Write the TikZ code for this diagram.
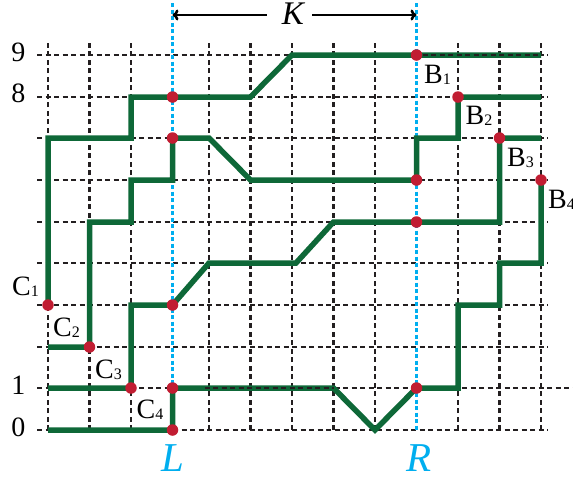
\documentclass[tikz,border=0pt]{standalone}
\usepackage{fontspec}
\setmainfont{Liberation Serif}
\usetikzlibrary{arrows.meta}
\definecolor{pathgreen}{RGB}{14,104,56}
\definecolor{dotred}{RGB}{193,29,50}
\definecolor{lineblue}{RGB}{0,174,239}
\definecolor{gridblack}{RGB}{35,31,32}
\newcommand\lblsub[1]{{\fontsize{16}{16}\selectfont\raisebox{-1pt}{#1}}}
\begin{document}
\begin{tikzpicture}[x=1pt,y=-1pt,
  gridline/.style={draw=gridblack,line width=2.2pt,dash pattern=on 5pt off 3.5pt},
  bluedash/.style={draw=lineblue,line width=2.4pt,dash pattern=on 4pt off 2.5pt},
  route/.style={draw=pathgreen,line width=5.5pt,line join=miter},
  dot/.style={circle,fill=dotred,inner sep=0pt,minimum size=11.5pt},
  lab/.style={anchor=base west,inner sep=0pt,font=\fontsize{28}{30}\selectfont},
  axis/.style={inner sep=0pt,font=\fontsize{28}{30}\selectfont},
  lr/.style={inner sep=0pt,text=lineblue,font=\fontsize{41}{44}\selectfont\itshape},
  dimarrow/.style={draw=black,line width=2.6pt,-{To[length=6pt,width=11pt]}}]
\useasboundingbox (0,0) rectangle (573,480);
% grid points
\foreach \i/\x in {0/48,1/89.5,2/131,3/172.5,4/209,5/250.5,6/292,7/333.5,8/375,9/416.5,10/458,11/499.5,12/541}{
  \foreach \j/\y in {0/430,1/388,2/347,3/305,4/263,5/222,6/180,7/138,8/97,9/55}{
    \coordinate (g\i-\j) at (\x,\y);
  }
}
% black dashed grid
\foreach \i in {0,1,2,4,5,6,7,8,10,11,12}{
  \draw[gridline] (g\i-0) -- ++(0,-390);
}
\foreach \j in {0,2,3,4,5,6,7,8,9}{
  \draw[gridline] ([xshift=-11pt]g0-\j) -- ([xshift=7pt]g12-\j);
}
\draw[gridline] ([xshift=-11pt]g0-1) -- ([xshift=32pt]g12-1);
% blue dotted lines
\coordinate (Ltop) at (172.5,3);
\coordinate (Rtop) at (416.5,3);
\draw[bluedash] (Ltop) -- (g3-0);
\draw[bluedash] (Rtop) -- (g9-0);
% green routes
\draw[route] (g0-3) -- (g0-7) -- (g2-7) -- (g2-8) -- (g5-8) -- (g6-9) -- (g12-9);
\draw[route] (g0-2) -- (g1-2) -- (g1-5) -- (g2-5) -- (g2-6) -- (g3-6) -- (g3-7) -- (g4-7) -- (g5-6) -- (g9-6) -- (g9-7) -- (g10-7) -- (g10-8) -- (g12-8);
\draw[route] (g0-1) -- (g2-1) -- (g2-3) -- (g3-3) -- (g4-4) -- ([xshift=4pt]g6-4) -- (g7-5) -- (g11-5) -- (g11-7) -- (g12-7);
\draw[route] (g0-0) -- (g3-0) -- (g3-1) -- (g7-1) -- (g8-0) -- (g9-1) -- (g10-1) -- (g10-3) -- (g11-3) -- (g11-4) -- (g12-4) -- (g12-6);
% dashes showing over some green segments
\draw[gridline] ([xshift=32pt]g3-1) -- (g7-1);
\draw[gridline] ([xshift=6pt]g9-9) -- (g12-9);
% red dots
\foreach \p in {g3-8,g3-7,g3-3,g3-1,g3-0,g9-9,g9-6,g9-5,g9-1,g10-8,g11-7,g12-6,g0-3,g1-2,g2-1}{
  \node[dot] (d\p) at (\p) {};
}
% B and C labels
\node[lab] (B1) at ([shift={(7.5pt,-28pt)}]g9-9) {B\lblsub{1}};
\node[lab] (B2) at ([shift={(7.5pt,-27pt)}]g10-8) {B\lblsub{2}};
\node[lab] (B3) at ([shift={(7.5pt,-28pt)}]g11-7) {B\lblsub{3}};
\node[lab] (B4) at ([shift={(7pt,-28pt)}]g12-6) {B\lblsub{4}};
\node[lab] (C1) at ([shift={(-36pt,10pt)}]g0-3) {C\lblsub{1}};
\node[lab] (C2) at ([shift={(-36.5pt,11pt)}]g1-2) {C\lblsub{2}};
\node[lab] (C3) at ([shift={(-36pt,10pt)}]g2-1) {C\lblsub{3}};
\node[lab] (C4) at ([shift={(-36pt,12pt)}]g3-0) {C\lblsub{4}};
% axis numbers
\node[axis] (n9) at (18.5,52) {9};
\node[axis] (n8) at (18.5,93) {8};
\node[axis] (n1) at (18.5,385) {1};
\node[axis] (n0) at (18.5,427) {0};
% L and R
\node[lr] (L) at (173,458) {L};
\node[lr] (R) at (419,458) {R};
% K dimension
\node[inner sep=0pt,font=\fontsize{33}{35}\selectfont\itshape] (K) at (293,14) {K};
\coordinate (Kl) at (172.5,15);
\coordinate (Kr) at (416.5,15);
\draw[dimarrow] (K.west |- Kl) ++(-15pt,0) -- (Kl);
\draw[dimarrow] (K.east |- Kr) ++(8pt,0) -- (Kr);
\end{tikzpicture}
\end{document}
